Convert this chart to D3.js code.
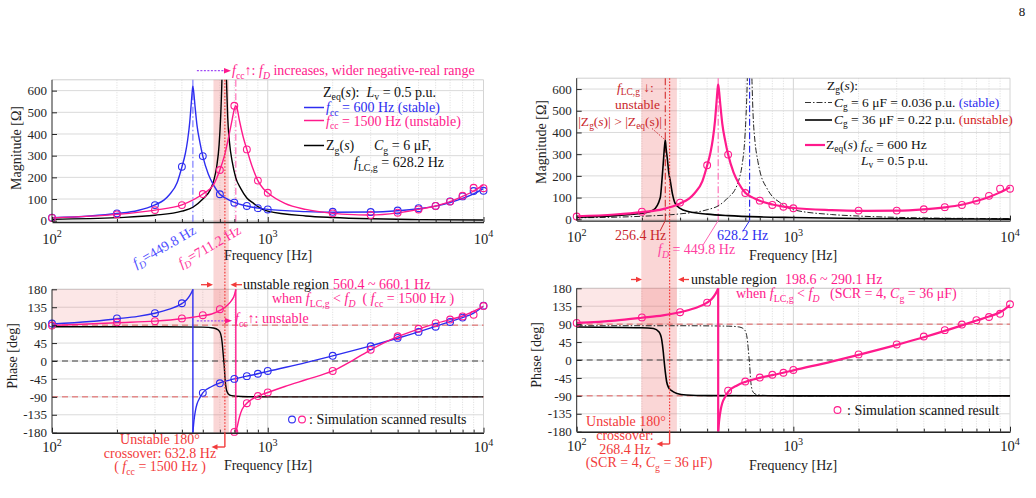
<!DOCTYPE html>
<html><head><meta charset="utf-8">
<script src="https://cdn.jsdelivr.net/npm/d3@7"></script>
<style>
body{margin:0;background:#fff;}
svg text{white-space:pre;}
</style></head><body>
<div id="chart"></div>
<script>
// ---------------- DATA ----------------
const majorF = [100, 1000, 10000];
const minorF = [200,300,400,500,600,700,800,900,2000,3000,4000,5000,6000,7000,8000,9000];
const magTicks = [0,100,200,300,400,500,600];
const phaseTicks = [-180,-135,-90,-45,0,45,90,135,180];

// Zeq(s), fcc = 600 Hz (left blue, right pink) magnitude [Hz, Ohm]
const zeq600Mag = [[100,14],[150,22],[200,33],[250,47],[300,73],[330,95],[350,120],[380,175],[400,248],[415,310],[425,370],[435,455],[442,540],[447,600],[449.8,620],[453,600],[460,530],[470,440],[485,360],[500,298],[530,215],[560,165],[600,122],[650,100],[700,85],[800,68],[900,58],[1000,52],[1500,42],[2000,39],[3000,40],[4000,46],[5000,55],[6000,67],[7000,84],[8000,103],[9000,124],[10000,148]];
// Zeq(s), fcc = 1500 Hz magnitude
const zeq1500Mag = [[100,13],[200,29],[300,49],[400,73],[500,123],[560,165],[600,234],[630,300],[660,390],[685,470],[700,515],[711.2,530],[720,520],[740,460],[770,385],[800,329],[850,245],[900,185],[950,150],[1000,129],[1200,80],[1500,52],[2000,34],[2500,28],[3000,26],[4000,36],[5000,52],[6000,68],[7000,88],[8000,112],[9000,137],[10000,165]];
// Zg(s), Cg = 6 uF magnitude
const zg6Mag = [[100,7],[200,14],[300,25],[400,44],[450,62],[500,100],[540,140],[560,180],[580,250],[595,350],[605,480],[612,620],[616,750],[622,1200],[628.2,3000],[634,1200],[640,760],[645,620],[652,480],[665,360],[685,270],[710,200],[750,148],[800,105],[860,80],[900,65],[1000,44],[1500,22],[2000,15],[3000,9],[5000,5],[10000,3]];
// Zg(s), Cg = 36 uF magnitude
const zg36Mag = [[100,10],[150,17],[200,28],[226,43],[243,99],[247,170],[251,260],[254,330],[256.4,365],[259,320],[262,280],[266,215],[270,180],[277,115],[284,76],[300,50],[330,35],[400,24],[500,17],[700,11],[1000,8],[2000,4],[5000,2],[10000,1]];

// Phases [Hz, deg]
const zeq600PhA = [[100,93],[150,99],[200,106],[250,112],[300,120],[350,130],[400,144],[420,153],[435,164],[445,174],[449.8,180]];
const zeq600PhB = [[449.8,-180],[455,-150],[462,-125],[470,-108],[485,-92],[500,-80],[550,-64],[600,-55],[700,-45],[800,-38],[900,-32],[1000,-26],[1500,-4],[2000,13],[3000,38],[4000,57],[5000,73],[6000,87],[7000,99],[8000,109],[9000,120],[10000,138]];
const zeq1500PhA = [[100,89],[200,96],[300,100],[400,106],[500,114],[550,118],[600,127],[650,140],[680,152],[700,165],[711.2,180]];
const zeq1500PhB = [[711.2,-180],[720,-168],[740,-140],[760,-122],[800,-106],[850,-95],[900,-88],[1000,-79],[1200,-64],[1500,-47],[2000,-25],[2500,3],[3000,28],[4000,61],[5000,80],[6000,94],[7000,104],[8000,113],[10000,137]];
const zg6Ph = [[100,86],[300,86],[500,85],[560,83],[590,78],[605,68],[615,45],[622,15],[628.2,-10],[634,-45],[642,-70],[655,-82],[680,-87],[750,-89],[1000,-90],[10000,-90]];
const zg36Ph = [[100,83],[200,81],[226,79],[240,70],[247,50],[251,20],[253,0],[256.4,-30],[260,-54],[266,-70],[274,-77],[290,-84],[320,-88],[400,-89.5],[1000,-90],[10000,-90]];

// Simulation scanned points
const scanF = [100,200,300,400,500,600,700,800,900,1000,2000,3000,4000,5000,6000,7000,8000,9000,10000];
const magScanBlueL = [14,34,72,249,298,122,83,68,58,52,41,40,47,58,68,89,112,137,138];
const magScanPinkL = [13,29,49,72,123,234,530,329,185,129,34,26,37,52,68,88,115,152,150];
const magScanPinkR = [13,35,77,249,298,121,86,66,58,51,40,40,46,56,66,86,108,141,141];
const phScanBlueL = [94,107,120,145,-80,-56,-45,-38,-32,-25,13,37,58,73,86,98,109,null,139];
const phScanPinkL = [89,97,100,107,115,130,-178,-106,-88,-79,-25,28,62,81,95,104,112,116,138];
const phScanPinkR = [93,107,120,144,-77,-54,-44,-37,-32,-25,14,39,59,75,89,100,108,116,140];

// Key frequencies
const fD600 = 449.8, fD1500 = 711.2, fLC6 = 628.2, fLC36 = 256.4;
const crossL = 632.8, crossR = 268.4;
const bandL = [560.4, 660.1], bandR = [198.6, 290.1];

// ---------------- DRAWING ----------------
const BLUE='#2d2df0', PINK='#ff1a8c', RED='#f23b3b', DRED='#c9262b', PURPLE='#a14cf5';
const svg = d3.select('#chart').append('svg').attr('width',1036).attr('height',498)
  .style('font-family','"Liberation Serif","Times New Roman",serif');

function rt(g, x, y, parts, o={}) {
  const size=o.size||14;
  const t=g.append('text').attr('x',x).attr('y',y).attr('font-size',size)
    .attr('fill',o.fill||'#111').attr('text-anchor',o.anchor||'start');
  if(o.transform) t.attr('transform',o.transform);
  let cur=0;
  parts.forEach(p=>{
    if(typeof p==='string') p=[p];
    const [s,fl='',col]=p;
    let tgt=0, fs=size;
    if(fl.includes('b')){tgt=size*0.25; fs=size*0.7;}
    if(fl.includes('p')){tgt=-size*0.42; fs=size*0.7;}
    const ts=t.append('tspan').text(s).attr('font-size',fs);
    if(tgt-cur!==0) ts.attr('dy',tgt-cur);
    if(fl.includes('i')) ts.attr('font-style','italic');
    if(col) ts.attr('fill',col);
    cur=tgt;
  });
  return t;
}

function panel(xr, yr, ydom){
  return {xs:d3.scaleLog().domain([100,10000]).range(xr), ys:d3.scaleLinear().domain(ydom).range(yr)};
}
const TL = panel([52,483.5],[222.0,79.8],[-6,650]);
const BL = panel([52,483.5],[432.7,289.3],[-180,180]);
const TR = panel([576.7,1010],[220.6,78.2],[-6,650]);
const BR = panel([576.7,1010],[431.7,288.3],[-180,180]);

const gGrid = svg.append('g'), gShade = svg.append('g'), gRef = svg.append('g'),
      gCurve = svg.append('g'), gAxis = svg.append('g'), gAnn = svg.append('g');

let clipId=0;
function grid(p, yticks){
  const [x0,x1]=p.xs.range(), [y0,y1]=p.ys.range();
  gGrid.selectAll(null).data(minorF).join('line')
    .attr('x1',d=>p.xs(d)).attr('x2',d=>p.xs(d)).attr('y1',y1).attr('y2',y0)
    .attr('stroke','#d2d2d2').attr('stroke-width',0.8).attr('stroke-dasharray','1,1.5');
  gGrid.selectAll(null).data([1000,10000]).join('line')
    .attr('x1',d=>p.xs(d)).attr('x2',d=>p.xs(d)).attr('y1',y1).attr('y2',y0)
    .attr('stroke','#d4d4d4').attr('stroke-width',1);
  gGrid.selectAll(null).data(yticks).join('line')
    .attr('x1',x0).attr('x2',x1).attr('y1',d=>p.ys(d)).attr('y2',d=>p.ys(d))
    .attr('stroke','#dadada').attr('stroke-width',1);
  gGrid.append('line').attr('x1',x0).attr('x2',x1).attr('y1',y1).attr('y2',y1).attr('stroke','#cfcfcf');
  const id='clip'+(clipId++);
  svg.append('clipPath').attr('id',id).append('rect').attr('x',x0).attr('y',y1).attr('width',x1-x0).attr('height',y0-y1);
  p.clip='url(#'+id+')';
}
function axes(p, yticks, labOff){
  const [x0,x1]=p.xs.range(), [y0,y1]=p.ys.range();
  const gx=gAxis.append('g').attr('transform',`translate(0,${y0})`)
    .call(d3.axisBottom(p.xs).tickValues(majorF).tickSize(-5).tickSizeOuter(0).tickFormat(''));
  gAxis.append('g').attr('transform',`translate(0,${y0})`)
    .call(d3.axisBottom(p.xs).tickValues(minorF).tickSize(-3).tickSizeOuter(0).tickFormat(''))
    .select('.domain').remove();
  gx.select('.domain').attr('stroke','#262626').attr('stroke-width',1.4);
  const gy=gAxis.append('g').attr('transform',`translate(${x0},0)`)
    .call(d3.axisLeft(p.ys).tickValues(yticks).tickSize(-5).tickSizeOuter(0).tickPadding(5).tickFormat(d=>String(d)));
  gy.attr('font-family','"Liberation Serif","Times New Roman",serif').attr('font-size',13).style('color','#262626');
  gy.select('.domain').attr('d',`M0,${y0}V${y1}`);
  gAxis.selectAll('.tick line').attr('stroke','#262626');
  majorF.forEach(v=>rt(gAxis, p.xs(v), y0+labOff, [['10'],[String(Math.round(Math.log10(v))),'p']], {anchor:'middle', size:14.5, fill:'#1a1a1a'}));
}
grid(TL, magTicks); grid(BL, phaseTicks); grid(TR, magTicks); grid(BR, phaseTicks);

// shaded regions
const SH='rgb(236,92,92)';
gShade.append('rect').attr('x',BL.xs(100)).attr('y',BL.ys(180)).attr('width',BL.xs(bandL[1])-BL.xs(100)).attr('height',BL.ys(90)-BL.ys(180)).attr('fill',SH).attr('fill-opacity',0.15);
gShade.append('rect').attr('x',TL.xs(bandL[0])).attr('y',TL.ys(650)).attr('width',TL.xs(bandL[1])-TL.xs(bandL[0])).attr('height',BL.ys(-180)-TL.ys(650)).attr('fill',SH).attr('fill-opacity',0.25);
gShade.append('rect').attr('x',BR.xs(100)).attr('y',BR.ys(180)).attr('width',BR.xs(bandR[1])-BR.xs(100)).attr('height',BR.ys(90)-BR.ys(180)).attr('fill',SH).attr('fill-opacity',0.15);
gShade.append('rect').attr('x',TR.xs(bandR[0])).attr('y',TR.ys(650)).attr('width',TR.xs(bandR[1])-TR.xs(bandR[0])).attr('height',BR.ys(-180)-TR.ys(650)).attr('fill',SH).attr('fill-opacity',0.25);

// reference dashed lines in phase plots
[BL,BR].forEach(p=>{
  const [x0,x1]=p.xs.range();
  [[90,'#e05a5a'],[-90,'#e05a5a'],[0,'#3a3a3a']].forEach(([v,c])=>
    gRef.append('line').attr('x1',x0).attr('x2',x1).attr('y1',p.ys(v)).attr('y2',p.ys(v))
      .attr('stroke',c).attr('stroke-width',1).attr('stroke-dasharray','6,4'));
});
function vline(p, f, v0, v1, color, dash, w){
  gRef.append('line').attr('x1',p.xs(f)).attr('x2',p.xs(f)).attr('y1',p.ys(v0)).attr('y2',p.ys(v1))
    .attr('stroke',color).attr('stroke-width',w||1.1).attr('stroke-dasharray',dash);
}
const DD='7,2.5,1.5,2.5', DOT='1.6,1.6';
vline(TL, fD600, 650, -6, '#7373ff', DD);
vline(TL, fD1500, 650, -6, '#ff66b3', DD);
vline(TR, fLC36, 650, -6, '#d23030', DD);
vline(TR, fD600, 650, -6, '#ff66b3', DD);
vline(TR, fLC6, 650, -6, '#1f1fe6', DD);

// curves
const lineGen=(p)=>d3.line().x(d=>p.xs(d[0])).y(d=>p.ys(d[1])).curve(d3.curveMonotoneX);
function curve(p, data, color, w, dash){
  gCurve.append('path').datum(data).attr('d',lineGen(p)).attr('fill','none').attr('stroke',color)
    .attr('stroke-width',w).attr('stroke-dasharray',dash||null).attr('clip-path',p.clip);
}
function jump(p, a, b, color, w){
  gCurve.append('path').datum([a[a.length-1], b[0]]).attr('d',d3.line().x(d=>p.xs(d[0])).y(d=>p.ys(d[1])))
    .attr('fill','none').attr('stroke',color).attr('stroke-width',w);
}
function circles(p, vals, color){
  gCurve.selectAll(null).data(scanF.map((f,i)=>[f,vals[i]]).filter(d=>d[1]!=null)).join('circle')
    .attr('cx',d=>p.xs(d[0])).attr('cy',d=>p.ys(d[1])).attr('r',3.4)
    .attr('fill','none').attr('stroke',color).attr('stroke-width',1.1);
}
// top-left
curve(TL, zg6Mag, '#000', 1.4);
curve(TL, zeq600Mag, BLUE, 1.4);
curve(TL, zeq1500Mag, PINK, 1.4);
circles(TL, magScanBlueL, BLUE); circles(TL, magScanPinkL, PINK);
// bottom-left
curve(BL, zg6Ph, '#000', 1.4);
curve(BL, zeq600PhA, BLUE, 1.4); jump(BL, zeq600PhA, zeq600PhB, BLUE, 1.4); curve(BL, zeq600PhB, BLUE, 1.4);
curve(BL, zeq1500PhA, PINK, 1.4); jump(BL, zeq1500PhA, zeq1500PhB, PINK, 1.4); curve(BL, zeq1500PhB, PINK, 1.4);
circles(BL, phScanBlueL, BLUE); circles(BL, phScanPinkL, PINK);
// top-right
curve(TR, zg6Mag, '#222', 1, '6,2,1.5,2');
curve(TR, zg36Mag, '#000', 1.6);
curve(TR, zeq600Mag, PINK, 2.2);
circles(TR, magScanPinkR, PINK);
// bottom-right
curve(BR, zg6Ph, '#222', 1, '6,2,1.5,2');
curve(BR, zg36Ph, '#000', 1.6);
curve(BR, zeq600PhA, PINK, 2.2); jump(BR, zeq600PhA, zeq600PhB, PINK, 2.2); curve(BR, zeq600PhB, PINK, 2.2);
circles(BR, phScanPinkR, PINK);

axes(TL, magTicks, 21.5); axes(BL, phaseTicks, 19); axes(TR, magTicks, 21.5); axes(BR, phaseTicks, 19);

// crossover lines (dotted inside, solid below) with arrows
function head(x,y,dir,color,s){
  s=s||6; const k=dir==='r'?1:-1;
  gAnn.append('path').attr('d',`M${x},${y}L${x-k*s},${y-2.8}L${x-k*s},${y+2.8}Z`).attr('fill',color);
}
function seg(x1,y1,x2,y2,color,w,dash){
  gAnn.append('line').attr('x1',x1).attr('y1',y1).attr('x2',x2).attr('y2',y2)
    .attr('stroke',color).attr('stroke-width',w||1).attr('stroke-dasharray',dash||null);
}
{
  const x=TL.xs(crossL);
  seg(x, TL.ys(650), x, BL.ys(-180), RED, 1.2, DOT);
  seg(x, BL.ys(-180), x, 447, RED, 1.4);
  seg(x, 447, 217, 447, RED, 1.4); head(211.5,447,'l',RED);
}
{
  const x=TR.xs(crossR);
  seg(x, TR.ys(650), x, BR.ys(-180), RED, 1.2, DOT);
  seg(x, BR.ys(-180), x, 444, RED, 1.4);
  seg(x, 444, 662, 444, RED, 1.4); head(656.5,444,'l',RED);
}

const A=gAnn;
// ---- top-left annotations
seg(TL.xs(fD600)+4, 70.7, 225, 70.7, PURPLE, 1.3, '2,1.5'); head(231,70.7,'r',PINK,7);
rt(A, 232, 75, [['f','i'],['cc','b'],['↑: '],['f','i'],['D','ib'],[' increases, wider negative-real range']], {fill:PINK});
rt(A, 323, 96.5, [['Z'],['eq','b'],['('],['s','i'],['):  '],['L','i'],['v','b'],[' = 0.5 p.u.']]);
seg(304,107.5,324,107.5,BLUE,1.5); rt(A, 326, 112, [['f','i'],['cc','b'],[' = 600 Hz (stable)']], {fill:BLUE});
seg(304,120.5,324,120.5,PINK,1.5); rt(A, 326, 125.5, [['f','i'],['cc','b'],[' = 1500 Hz (unstable)']], {fill:PINK});
seg(304,145.5,324,145.5,'#000',1.5); rt(A, 326, 150, [['Z'],['g','b'],['('],['s','i'],[')']]);
rt(A, 374, 150, [['C','i'],['g','b'],[' = 6 μF,']]);
rt(A, 354, 167, [['f','i'],['LC,g','b'],[' = 628.2 Hz']]);
rt(A, 0, 0, [['f','i'],['D','ib'],['=449.8 Hz']], {fill:'#4d4dff', anchor:'end', transform:`translate(${TL.xs(fD600)+4},233) rotate(-30)`});
rt(A, 0, 0, [['f','i'],['D','ib'],['=711.2 Hz']], {fill:'#ff3399', anchor:'end', transform:`translate(${TL.xs(fD1500)+6},233) rotate(-30)`});
rt(A, 268, 260, ['Frequency [Hz]'], {anchor:'middle', fill:'#222'});
rt(A, 0, 0, ['Magnitude [Ω]'], {anchor:'middle', fill:'#222', transform:'translate(21,148) rotate(-90)'});

// ---- bottom-left annotations
seg(201,284.7,207,284.7,RED,1.3); head(213,284.7,'r',RED);
seg(242,284.7,236,284.7,RED,1.3); head(230.5,284.7,'l',RED);
rt(A, 243, 289, ['unstable region']);
rt(A, 333, 289, ['560.4 ~ 660.1 Hz'], {fill:PINK});
rt(A, 272, 303, [['when '],['f','i'],['LC,g','b'],[' < '],['f','i'],['D','ib'],['  ( '],['f','i'],['cc','b'],[' = 1500 Hz )']], {fill:PINK});
seg(BL.xs(fD600)+4, 320.8, 226, 320.8, PURPLE, 1.3, '2,1.5'); head(232,320.8,'r',PINK,7);
rt(A, 235, 323, [['f','i'],['cc','b'],['↑: unstable']], {fill:PINK});
gAnn.append('circle').attr('cx',292).attr('cy',419.5).attr('r',3.4).attr('fill','none').attr('stroke',BLUE).attr('stroke-width',1.1);
gAnn.append('circle').attr('cx',302).attr('cy',419.5).attr('r',3.4).attr('fill','none').attr('stroke',PINK).attr('stroke-width',1.1);
rt(A, 309, 424, [': Simulation scanned results']);
rt(A, 160, 444, ['Unstable 180°'], {anchor:'middle', fill:RED});
rt(A, 160, 457.5, ['crossover: 632.8 Hz'], {anchor:'middle', fill:RED});
rt(A, 160, 471, [['( '],['f','i'],['cc','b'],[' = 1500 Hz )']], {anchor:'middle', fill:RED});
rt(A, 268, 470, ['Frequency [Hz]'], {anchor:'middle', fill:'#222'});
rt(A, 0, 0, ['Phase [deg]'], {anchor:'middle', fill:'#222', transform:'translate(17,356) rotate(-90)'});

// ---- top-right annotations
rt(A, 617, 91.5, [['f','i'],['LC,g','b'],[' ↓:']], {fill:DRED, size:13.5});
rt(A, 615, 109, ['unstable'], {fill:DRED, size:13.5});
rt(A, 662, 125.5, [['|Z'],['g','b'],['('],['s','i'],[')| > |Z'],['eq','b'],['(s)|']], {fill:DRED, anchor:'end', size:13.5});
seg(652,128.5,TR.xs(fLC36),140,DRED,1,'1.5,1.5');
rt(A, 615, 240, ['256.4 Hz'], {fill:DRED});
seg(660,231,TR.xs(fLC36),TR.ys(-6),DRED,1);
rt(A, 717, 240, ['628.2 Hz'], {fill:BLUE});
seg(743,231,TR.xs(fLC6),TR.ys(-6),BLUE,1);
rt(A, 658, 254, [['f','i'],['D','ib'],[' = 449.8 Hz']], {fill:'#ff40a0'});
seg(703,245,TR.xs(fD600),TR.ys(-6),'#ff66b3',1);
rt(A, 827, 89.5, [['Z'],['g','b'],['('],['s','i'],['):']], {size:13.5});
seg(805,102.5,832,102.5,'#333',1.1,'6,2,1.5,2');
rt(A, 834, 106.5, [['C','i'],['g','b'],[' = 6 μF = 0.036 p.u. '],['(stable)','',BLUE]], {size:13.5});
seg(805,120,832,120,'#000',1.6);
rt(A, 834, 124, [['C','i'],['g','b'],[' = 36 μF = 0.22 p.u. '],['(unstable)','','#d42222']], {size:13.5});
seg(805,145,825,145,PINK,2.2);
rt(A, 826, 149, [['Z'],['eq','b'],['('],['s','i'],[') '],['f','i'],['cc','b'],[' = 600 Hz']], {size:13.5});
rt(A, 861, 164.5, [['L','i'],['v','b'],[' = 0.5 p.u.']], {size:13.5});
rt(A, 793, 260, ['Frequency [Hz]'], {anchor:'middle', fill:'#222'});
rt(A, 0, 0, ['Magnitude [Ω]'], {anchor:'middle', fill:'#222', transform:'translate(546,142) rotate(-90)'});

// ---- bottom-right annotations
seg(631,279.5,636,279.5,RED,1.3); head(642,279.5,'r',RED);
seg(689,279.5,684,279.5,RED,1.3); head(678,279.5,'l',RED);
rt(A, 691, 283.5, ['unstable region']);
rt(A, 785, 283.5, ['198.6 ~ 290.1 Hz'], {fill:PINK});
rt(A, 736, 298, [['when '],['f','i'],['LC,g','b'],[' < '],['f','i'],['D','ib']], {fill:PINK});
rt(A, 830, 298, [['(SCR = 4, '],['C','i'],['g','b'],[' = 36 μF)']], {fill:PINK});
gAnn.append('circle').attr('cx',837.5).attr('cy',410).attr('r',3.4).attr('fill','none').attr('stroke',PINK).attr('stroke-width',1.1);
rt(A, 847, 414.5, [': Simulation scanned result']);
rt(A, 626, 426, ['Unstable 180°'], {anchor:'middle', fill:RED});
rt(A, 625, 440, ['crossover:'], {anchor:'middle', fill:RED});
rt(A, 625, 454, ['268.4 Hz'], {anchor:'middle', fill:RED});
rt(A, 649, 467, [['(SCR = 4, '],['C','i'],['g','b'],[' = 36 μF)']], {anchor:'middle', fill:RED});
rt(A, 793, 470, ['Frequency [Hz]'], {anchor:'middle', fill:'#222'});
rt(A, 0, 0, ['Phase [deg]'], {anchor:'middle', fill:'#222', transform:'translate(541,355) rotate(-90)'});

// page number
rt(A, 1022, 16, ['8'], {anchor:'middle', size:13});
</script></body></html>
